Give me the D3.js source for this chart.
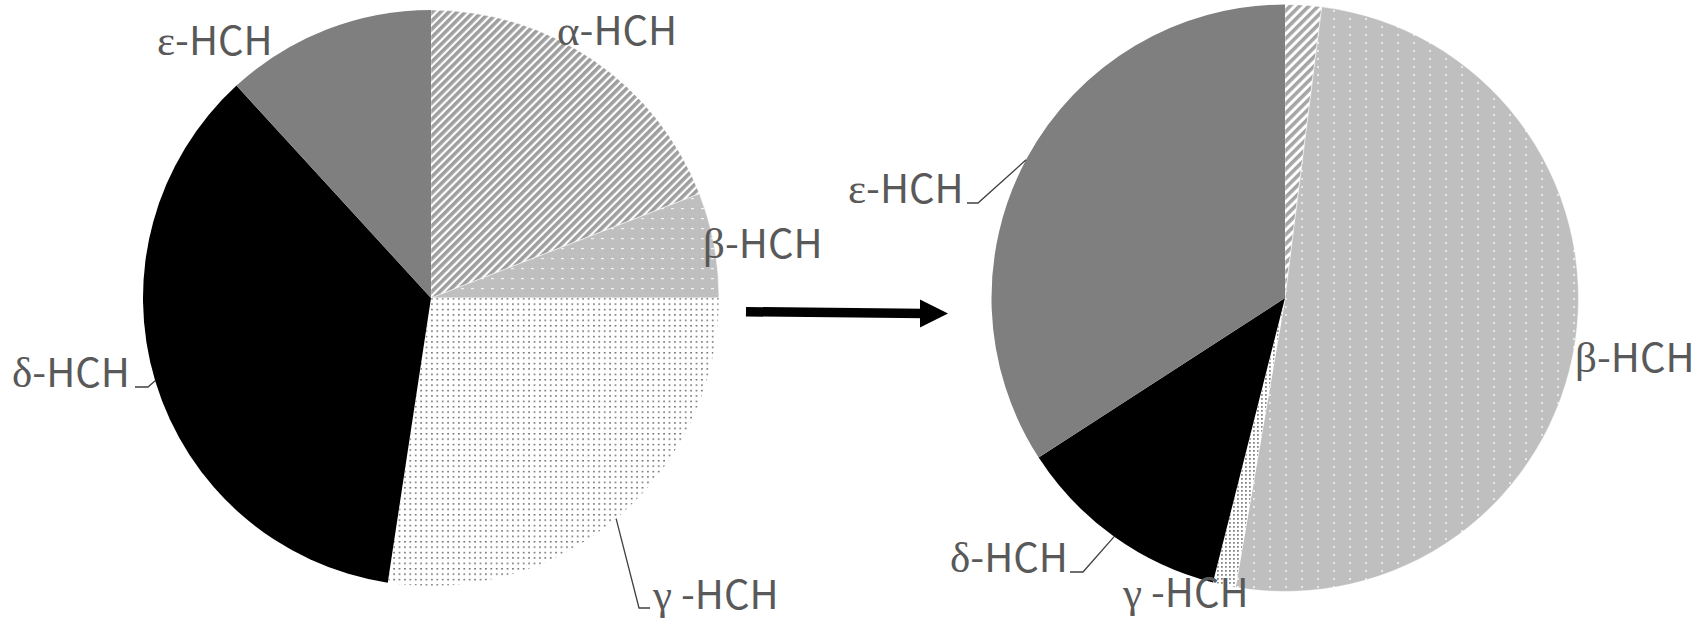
<!DOCTYPE html>
<html>
<head>
<meta charset="utf-8">
<script src="https://cdn.jsdelivr.net/npm/d3@7"></script>
<style>
  html, body { margin: 0; padding: 0; background: #fff; }
  svg { display: block; }
</style>
</head>
<body>
<svg id="chart" width="1698" height="621"></svg>
<script>
// ---- data ----
const categories = ["α", "β", "γ", "δ", "ε"];
const beforeValues = [19.1, 5.9, 27.4, 35.8, 11.8];   // left pie (%)
const afterValues  = [2.0, 50.7, 1.25, 11.9, 34.15];  // right pie (%)
const labelSuffix = ["-HCH", "-HCH", " -HCH", "-HCH", "-HCH"];

// ---- layout ----
const svg = d3.select("#chart");
const defs = svg.append("defs");

function stripePattern(id, period, width, color) {
  const p = defs.append("pattern").attr("id", id)
    .attr("patternUnits", "userSpaceOnUse")
    .attr("width", period).attr("height", period)
    .attr("patternTransform", "rotate(45)");
  p.append("rect").attr("width", period).attr("height", period).attr("fill", "#fff");
  p.append("rect").attr("width", width).attr("height", period).attr("fill", color);
}
function dashPattern(id, w, h, bg, fg, marks) {
  const p = defs.append("pattern").attr("id", id)
    .attr("patternUnits", "userSpaceOnUse").attr("width", w).attr("height", h);
  p.append("rect").attr("width", w).attr("height", h).attr("fill", bg);
  marks.forEach(m => p.append("rect").attr("x", m[0]).attr("y", m[1])
    .attr("width", m[2]).attr("height", m[3]).attr("fill", fg));
}
stripePattern("alphaL", 5.8, 3.6, "#9f9f9f");
stripePattern("alphaR", 6.6, 3.6, "#a6a6a6");
dashPattern("betaL", 10, 10, "#bfbfbf", "#f4f4f4", [[0, 0, 3, 1.2]]);
dashPattern("betaR", 16, 8, "#bfbfbf", "#e8e8e8", [[0, 0, 2, 2]]);
dashPattern("gammaL", 5.4, 5.4, "#ffffff", "#777777", [[0, 0, 1.8, 1.5]]);
dashPattern("gammaR", 4, 4, "#ffffff", "#888888", [[0, 0, 1.8, 1.8]]);

const fillsL = ["url(#alphaL)", "url(#betaL)", "url(#gammaL)", "#000000", "#7f7f7f"];
const fillsR = ["url(#alphaR)", "url(#betaR)", "url(#gammaR)", "#000000", "#7f7f7f"];

const pies = [
  { values: beforeValues, cx: 431, cy: 298, r: 288, fills: fillsL,
    labels: [
      { x: 557, y: 45 },
      { x: 703, y: 258 },
      { x: 653, y: 609, leader: { angle: 140, pts: [[639, 608], [650, 608]] } },
      { x: 12, y: 387, leader: { angle: 253.3, pts: [[148, 387], [135, 387]] } },
      { x: 157, y: 55 }
    ] },
  { values: afterValues, cx: 1285, cy: 298, r: 293.5, fills: fillsR,
    labels: [
      null,
      { x: 1575, y: 372 },
      { x: 1123, y: 607 },
      { x: 950, y: 572, leader: { angle: 215.6, pts: [[1083, 572], [1070, 572]] } },
      { x: 848, y: 203, leader: { angle: 298.1, pts: [[978, 203], [967, 203]] } }
    ] }
];

const pieGen = d3.pie().sort(null).value(d => d);

pies.forEach(P => {
  const g = svg.append("g").attr("transform", `translate(${P.cx},${P.cy})`);
  const arc = d3.arc().innerRadius(0).outerRadius(P.r);
  g.selectAll("path.slice").data(pieGen(P.values)).join("path")
    .attr("class", "slice")
    .attr("d", arc)
    .attr("fill", (d, i) => P.fills[i])
    .attr("stroke", (d, i) => (i === 3 || i === 4) ? "none" : "#ffffff")
    .attr("stroke-width", 0.5)
    .attr("stroke-linejoin", "round");

  P.labels.forEach((L, i) => {
    if (!L) return;
    if (L.leader) {
      const a = L.leader.angle * Math.PI / 180;
      const edge = [P.cx + P.r * Math.sin(a), P.cy - P.r * Math.cos(a)];
      const pts = [edge].concat(L.leader.pts);
      svg.append("path")
        .attr("d", d3.line()(pts))
        .attr("fill", "none")
        .attr("stroke", "#404040")
        .attr("stroke-width", 1.3);
    }
    const t = svg.append("text")
      .attr("x", L.x).attr("y", L.y)
      .attr("fill", "#595959")
      .attr("font-size", 40)
      .attr("font-family", "'Noto Sans CJK SC', 'Noto Sans', sans-serif");
    t.append("tspan").attr("font-family", "'Liberation Serif', serif")
      .attr("font-size", 43).text(categories[i]);
    t.append("tspan").attr("xml:space", "preserve").text(labelSuffix[i]);
  });
});

// ---- arrow between pies ----
svg.append("line")
  .attr("x1", 746).attr("y1", 311.7).attr("x2", 924).attr("y2", 313.6)
  .attr("stroke", "#000").attr("stroke-width", 9.5);
svg.append("path")
  .attr("d", d3.line()([[920, 299.5], [948, 313.5], [920, 327.5]]) + "Z")
  .attr("fill", "#000");
</script>
</body>
</html>
